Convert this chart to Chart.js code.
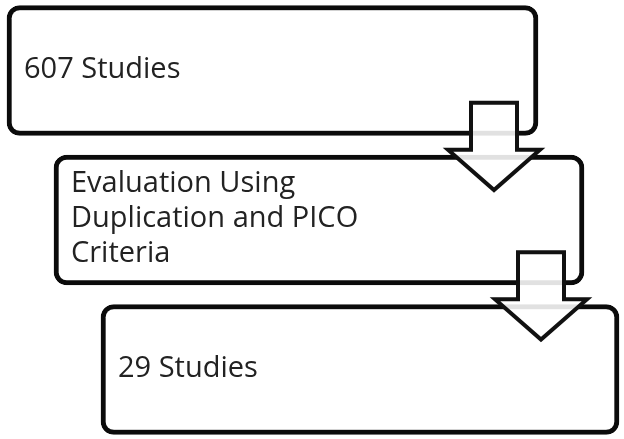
<!DOCTYPE html>
<html>
<head>
<meta charset="utf-8">
<script src="https://cdn.jsdelivr.net/npm/chart.js@4.4.1/dist/chart.umd.min.js"></script>
<style>
  html, body { margin: 0; padding: 0; background: #fff; }
  #wrap { width: 624px; height: 439px; }
</style>
</head>
<body>
<div id="wrap"><canvas id="flow" width="624" height="439"></canvas></div>
<script>
// flow steps (one box per step, top to bottom)
const stepLabels = [
  ["607 Studies"],
  ["Evaluation Using", "Duplication and PICO", "Criteria"],
  ["29 Studies"]
];
const stepIndex = [0, 1, 2];
const boxStart = [7, 54, 101];
const boxEnd = [538, 584, 619];

// arrows between steps: from step i to step i+1
const arrowFrom = [0, 1];
const arrowCenter = [494, 541];

// --- drawing helpers ---
const arrowPlugin = {
  id: "arrows",
  afterDatasetsDraw(chart) {
    const ctx = chart.ctx;
    const xs = chart.scales.x, ys = chart.scales.y;
    ctx.save();
    arrowFrom.forEach((s, i) => {
      const cx = xs.getPixelForValue(arrowCenter[i]);
      const top = ys.getPixelForValue(s + 0.215);
      const neck = ys.getPixelForValue(s + 0.53);
      const tip = ys.getPixelForValue(s + 0.80);
      const shaft = 23, head = 46;
      ctx.beginPath();
      ctx.moveTo(cx - shaft, top);
      ctx.lineTo(cx + shaft, top);
      ctx.lineTo(cx + shaft, neck);
      ctx.lineTo(cx + head, neck);
      ctx.lineTo(cx, tip);
      ctx.lineTo(cx - head, neck);
      ctx.lineTo(cx - shaft, neck);
      ctx.closePath();
      ctx.fillStyle = "rgba(255,255,255,0.88)";
      ctx.fill();
      ctx.lineWidth = 4;
      ctx.lineJoin = "miter";
      ctx.strokeStyle = "#111";
      ctx.stroke();
    });
    ctx.restore();
  }
};

const textPlugin = {
  id: "boxText",
  afterDraw(chart) {
    const ctx = chart.ctx;
    const meta = chart.getDatasetMeta(0);
    ctx.save();
    ctx.fillStyle = "#222";
    ctx.font = "29px 'Open Sans'";
    ctx.textAlign = "left";
    ctx.textBaseline = "alphabetic";
    const lineH = 35;
    meta.data.forEach((bar, i) => {
      const lines = stepLabels[i];
      const left = bar.base + 17;
      const first = bar.y + 8.5 - (lines.length - 1) * lineH / 2 - 1;
      lines.forEach((t, j) => ctx.fillText(t, left, first + j * lineH));
    });
    ctx.restore();
  }
};

new Chart(document.getElementById("flow"), {
  type: "bar",
  data: {
    datasets: [{
      data: stepIndex.map((s, i) => ({ y: s, x: [boxStart[i], boxEnd[i]] })),
      backgroundColor: "#fff",
      borderColor: "#0b0b0b",
      borderWidth: 5,
      borderRadius: 13,
      borderSkipped: false,
      barThickness: 130
    }]
  },
  options: {
    indexAxis: "y",
    responsive: false,
    animation: false,
    layout: { padding: 0 },
    plugins: { legend: { display: false }, tooltip: { enabled: false } },
    scales: {
      x: { type: "linear", min: 0, max: 624, display: false, offset: false },
      y: { type: "linear", min: -0.4716, max: 2.465, reverse: true, display: false, offset: false }
    }
  },
  plugins: [arrowPlugin, textPlugin]
});
</script>
</body>
</html>
